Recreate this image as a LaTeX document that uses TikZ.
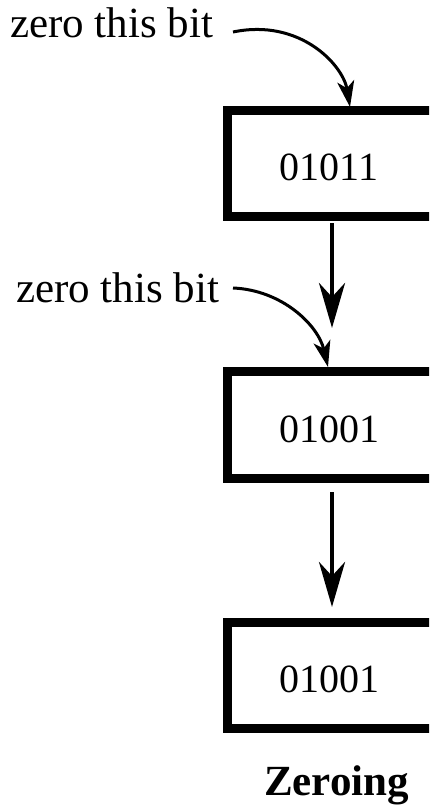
\documentclass[tikz,border=0pt]{standalone}
\usepackage{fontspec}
\setmainfont{LiberationSerif-Regular.ttf}[BoldFont=LiberationSerif-Bold.ttf]
\usetikzlibrary{arrows.meta}
\begin{document}
\begin{tikzpicture}[x=1pt,y=-1pt,
  bitbox/.style={draw, line width=9pt, rectangle, minimum width=240pt, inner sep=0pt},
  bits/.style={anchor=base, inner sep=0pt, font=\fontsize{40}{48}\selectfont},
  note/.style={anchor=base west, inner sep=0pt, font=\fontsize{43}{50}\selectfont},
  flow/.style={line width=4.5pt, -{Stealth[length=45pt, width=26pt, inset=14pt]}},
  pointer/.style={line width=3pt, -{Stealth[length=26pt, width=17pt, inset=7pt]}}]
\useasboundingbox (0,0) rectangle (429,806);
\clip (0,0) rectangle (429,806);
% boxes
\node[bitbox, minimum height=106pt] (b1) at (347.5,163.5) {};
\node[bitbox, minimum height=107pt] (b2) at (347.5,425) {};
\node[bitbox, minimum height=106pt] (b3) at (347.5,675.5) {};
\node[bits] (t1) at (329,180) {01011};
\node[bits] (t2) at (329,442) {01001};
\node[bits] (t3) at (329,692) {01001};
% labels
\node[note] (l1) at (10,37) {zero this bit};
\node[note] (l2) at (16,302) {zero this bit};
\node[anchor=base, inner sep=0pt, font=\fontsize{43}{50}\selectfont\bfseries] (cap) at (336.5,795) {Zeroing};
% flow arrows
\coordinate (a1s) at (332,223);
\coordinate (a1e) at (332,328);
\coordinate (a2s) at (332,492);
\coordinate (a2e) at (332,607);
\draw[flow] (a1s) -- (a1e);
\draw[flow] (a2s) -- (a2e);
% pointer arrows
\coordinate (p1s) at (233,32);
\coordinate (p1e) at (350,107);
\coordinate (p2s) at (233,288);
\coordinate (p2e) at (328,367);
\draw[pointer] (p1s) .. controls (300,18) and (343,65) .. (p1e);
\draw[pointer] (p2s) .. controls (282,290) and (318,325) .. (p2e);
\end{tikzpicture}
\end{document}
